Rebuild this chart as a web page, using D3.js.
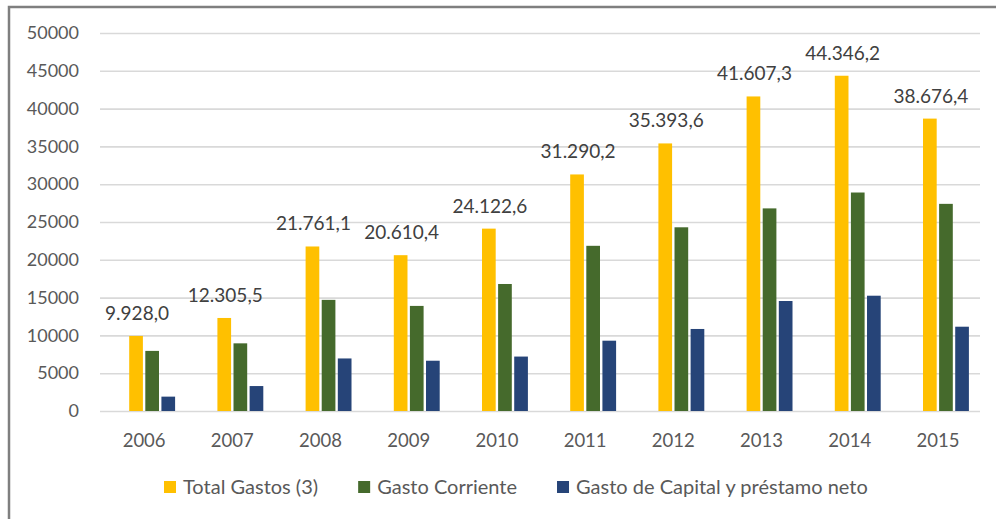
<!DOCTYPE html>
<html>
<head>
<meta charset="utf-8">
<script src="https://cdn.jsdelivr.net/npm/d3@7"></script>
<style>
  body { margin: 0; background: #fff; }
  svg { display: block; font-family: Lato, "Open Sans", sans-serif; }
</style>
</head>
<body>
<div id="chart"></div>
<script>
// chart data
var years = ["2006", "2007", "2008", "2009", "2010", "2011", "2012", "2013", "2014", "2015"];
var totalGastos = [9928.0, 12305.5, 21761.1, 20610.4, 24122.6, 31290.2, 35393.6, 41607.3, 44346.2, 38676.4];
var gastoCorriente = [7950, 8950, 14700, 13900, 16800, 21850, 24300, 26800, 28900, 27400];
var gastoCapital = [1900, 3300, 6950, 6650, 7200, 9300, 10850, 14550, 15250, 11150];
var yTicks = [0, 5000, 10000, 15000, 20000, 25000, 30000, 35000, 40000, 45000, 50000];
var seriesNames = ["Total Gastos (3)", "Gasto Corriente", "Gasto de Capital y préstamo neto"];
var seriesColors = ["#ffc000", "#456a2c", "#264478"];

var W = 996, H = 519;

var svg = d3.select("#chart")
    .append("svg")
    .attr("width", W)
    .attr("height", H);

// frame (only top and left edges are visible in the picture)
svg.append("rect")
    .attr("x", 9)
    .attr("y", 7)
    .attr("width", W + 20)
    .attr("height", H + 20)
    .attr("fill", "none")
    .attr("stroke", "#7f7f7f")
    .attr("stroke-width", 2.5);

var x0 = d3.scaleBand()
    .domain(years)
    .range([100, 982])
    .paddingInner(0.297)
    .paddingOuter(0.1485);

// four slots per year, the first one stays empty like in the original
var x1 = d3.scaleBand()
    .domain(["empty", "total", "corriente", "capital"])
    .range([0, x0.bandwidth()])
    .paddingInner(0.15);

var y = d3.scaleLinear()
    .domain([0, 50000])
    .range([411, 33]);

// y axis + gridlines
var yAxis = svg.append("g")
    .attr("transform", "translate(100,0)")
    .call(d3.axisLeft(y).tickValues(yTicks).tickFormat(d3.format("d")).tickSize(-880).tickPadding(21));
yAxis.select(".domain").remove();
yAxis.selectAll(".tick line")
    .attr("stroke", "#d9d9d9")
    .attr("stroke-width", 1.6);
yAxis.selectAll(".tick text")
    .attr("fill", "#595959")
    .attr("font-size", "18px")
    .attr("font-family", "Lato, sans-serif");

// x axis labels
var xAxis = svg.append("g")
    .attr("transform", "translate(0,411)")
    .call(d3.axisBottom(x0).tickSize(0));
xAxis.select(".domain").remove();
xAxis.selectAll(".tick text")
    .attr("dy", null)
    .attr("y", 36)
    .attr("fill", "#595959")
    .attr("font-size", "18.5px")
    .attr("font-family", "Lato, sans-serif");

var rows = years.map(function(d, i) {
    return { year: d, total: totalGastos[i], corriente: gastoCorriente[i], capital: gastoCapital[i] };
});
var keys = ["total", "corriente", "capital"];

var groups = svg.append("g")
  .selectAll("g")
  .data(rows)
  .enter().append("g")
    .attr("transform", function(d) { return "translate(" + x0(d.year) + ",0)"; });

groups.selectAll("rect")
    .data(function(d) { return keys.map(function(k, i) { return { key: k, value: d[k], color: seriesColors[i] }; }); })
    .enter().append("rect")
    .attr("x", function(d) { return x1(d.key); })
    .attr("y", function(d) { return y(d.value); })
    .attr("width", x1.bandwidth())
    .attr("height", function(d) { return y(0) - y(d.value); })
    .attr("fill", function(d) { return d.color; });

// value labels on the total bars
var fmt = function(v) {
    var s = v.toFixed(1).split(".");
    return s[0].replace(/\B(?=(\d{3})+(?!\d))/g, ".") + "," + s[1];
};
groups.append("text")
    .attr("x", x1("total") + x1.bandwidth() / 2 + 1)
    .attr("y", function(d) { return y(d.total) - 16; })
    .attr("text-anchor", "middle")
    .attr("fill", "#404040")
    .attr("font-size", "19px")
    .text(function(d) { return fmt(d.total); });

// legend
var legend = svg.append("g");
var lx = 164;
seriesNames.forEach(function(name, i) {
    legend.append("rect")
        .attr("x", lx)
        .attr("y", 481)
        .attr("width", 12)
        .attr("height", 12)
        .attr("fill", seriesColors[i]);
    var t = legend.append("text")
        .attr("x", lx + 19)
        .attr("y", 494)
        .attr("fill", "#595959")
        .attr("font-size", "20px")
        .text(name);
    lx = lx + 19 + t.node().getComputedTextLength() + 40;
});
</script>
</body>
</html>
